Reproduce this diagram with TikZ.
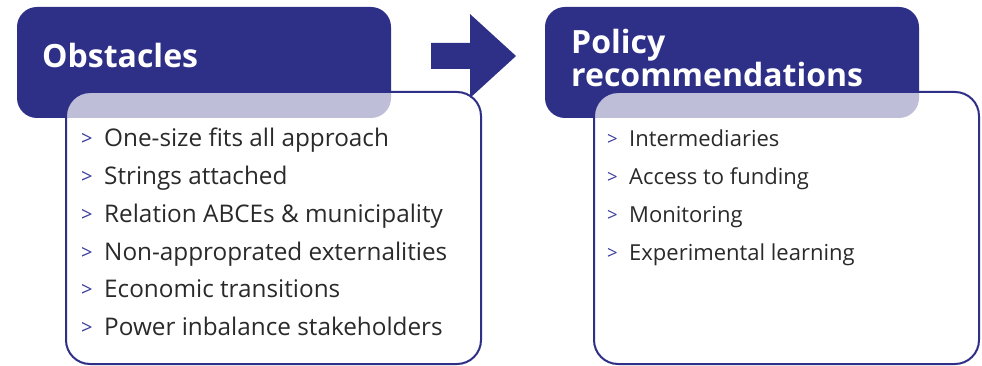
\documentclass[tikz,border=0pt]{standalone}
\usepackage{fontspec}
\setmainfont{Open Sans}
\definecolor{navy}{HTML}{2E3087}
\definecolor{txt}{HTML}{2A2A2A}
\definecolor{chev}{HTML}{3B3E9C}
\begin{document}
\begin{tikzpicture}[x=1pt,y=-1pt,
  head/.style={fill=navy,rounded corners=20pt},
  panel/.style={draw=navy,line width=2pt,fill=white,fill opacity=0.69,draw opacity=1,rounded corners=24pt},
  title/.style={anchor=base west,text=white,font=\fontsize{32}{33}\selectfont\bfseries,inner sep=0pt,align=left},
  item/.style={anchor=base west,text=txt,font=\fontsize{24.3}{28}\selectfont,inner sep=0pt},
  itemr/.style={anchor=base west,text=txt,font=\fontsize{22}{26}\selectfont,inner sep=0pt},
  chevron/.style={anchor=base west,text=chev,font=\fontsize{20}{24}\selectfont,inner sep=0pt},
  chevronr/.style={anchor=base west,text=chev,font=\fontsize{18.5}{22}\selectfont,inner sep=0pt}]
\useasboundingbox (0,0) rectangle (982,366);
% left
\fill[head] (17,7) rectangle (391,118);
\draw[panel] (66,92) rectangle (481,364);
\node[title] (t1) at (42,68) {Obstacles};
% right
\fill[head] (545,7) rectangle (919,118);
\draw[panel] (594,92) rectangle (979,364);
\node[title] (t2a) at (571,54) {Policy};
\node[title] (t2b) at (571,87) {recommendations};
% arrow
\fill[navy] (431,43) -- (470,43) -- (470,14) -- (516,56) -- (470,98) -- (470,69) -- (431,69) -- cycle;
% left items
\foreach \t [count=\i] in {One-size fits all approach,Strings attached,Relation ABCEs \& municipality,Non-approprated externalities,Economic transitions,Power inbalance stakeholders}{
  \node[chevron] (lc\i) at (81,{146+37.7*(\i-1)}) {>};
  \node[item] (li\i) at (104,{147+37.7*(\i-1)}) {\t};
}
% right items
\foreach \t [count=\i] in {Intermediaries,Access to funding,Monitoring,Experimental learning}{
  \node[chevronr] (rc\i) at (607,{146+37.7*(\i-1)}) {>};
  \node[itemr] (ri\i) at (629,{147+37.7*(\i-1)}) {\t};
}
\end{tikzpicture}
\end{document}
